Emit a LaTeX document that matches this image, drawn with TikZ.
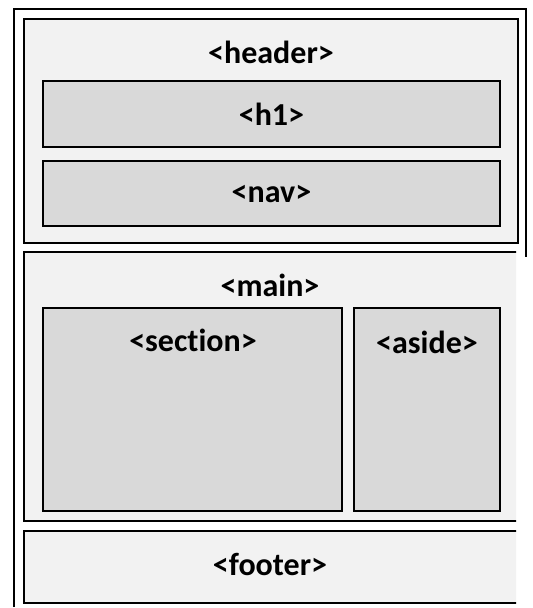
\documentclass[tikz,border=0pt]{standalone}
\usepackage{fontspec}
\setmainfont{Carlito}[Ligatures=CommonOff]
\definecolor{paleGray}{HTML}{F2F2F2}
\definecolor{midGray}{HTML}{D9D9D9}
\begin{document}
\begin{tikzpicture}[x=1pt,y=-1pt,
            every node/.style={rectangle,outer sep=0pt,inner sep=0pt,
              font=\fontsize{32}{36}\selectfont\bfseries},
            region/.style={draw=black,line width=2.4pt,fill=paleGray},
            block/.style={draw=black,line width=2.4pt,fill=midGray},
            tag/.style={}]
            \useasboundingbox (0,0) rectangle (533,608);
            % outer page frame, cut off at right and bottom
            \draw[line width=2.4pt] (14,607) -- (14,9) -- (526,9) -- (526,257);
            % header
            \node[region,minimum width=494,minimum height=224] (header) at (271,131) {};
            \node[tag] (headerTag) at (271,52) {<header>};
            \node[block,minimum width=457,minimum height=66] (h1) at (271.5,114) {<h1>};
            \node[block,minimum width=457,minimum height=65] (nav) at (271.5,193.5) {<nav>};
            % main and footer run past the right edge
            \begin{scope}
              \clip (0,0) rectangle (516,608);
              \node[region,minimum width=494,minimum height=269] (main) at (271,386.5) {};
              \node[tag] (mainTag) at (270,285) {<main>};
              \node[block,minimum width=299,minimum height=203] (section) at (192.5,409.5) {};
              \node[tag] (sectionTag) at (193,340) {<section>};
              \node[block,minimum width=146,minimum height=203] (aside) at (427,409.5) {};
              \node[tag] (asideTag) at (427,342) {<aside>};
              \node[region,minimum width=494,minimum height=72] (footer) at (271,567) {};
              \node[tag] (footerTag) at (270,564) {<footer>};
            \end{scope}
\end{tikzpicture}
\end{document}
